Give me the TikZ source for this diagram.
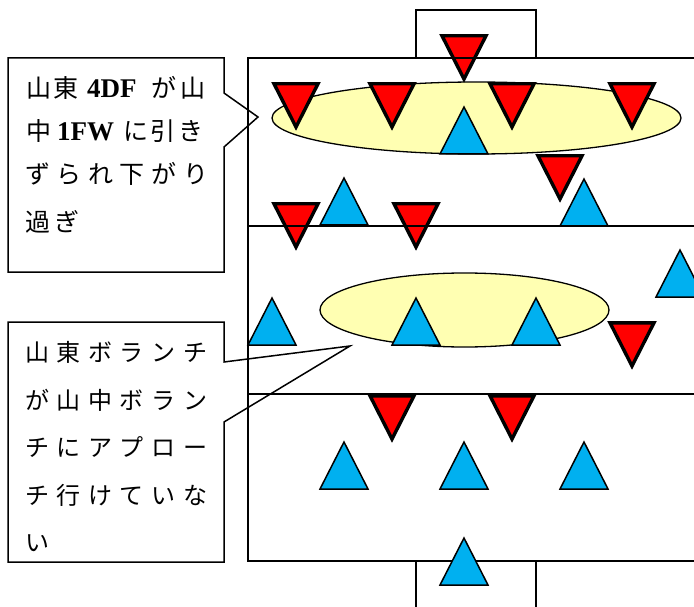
\documentclass[tikz,border=0pt]{standalone}
\usepackage{fontspec}
\setmainfont{Liberation Serif}
\newfontfamily\cjk{Noto Sans CJK JP}
\definecolor{tblue}{RGB}{0,176,240}
\definecolor{ellfill}{RGB}{255,255,178}
\newcommand\jc[1]{\makebox[31.6pt][l]{#1}}
\newcommand\lat[1]{{\rmfamily\bfseries\fontsize{27pt}{30pt}\selectfont #1}}
\newcommand\rtri[2]{\draw[redtri] (#1-22,#2+1.8) -- (#1+22,#2+1.8) -- (#1,#2+45) -- cycle;}
\newcommand\btri[2]{\draw[bluetri] (#1,#2) -- (#1+24,#2+47) -- (#1-24,#2+47) -- cycle;}
\tikzset{
  redtri/.style={fill=red, draw=black, line width=3.4pt, line join=miter},
  bluetri/.style={fill=tblue, draw=black, line width=1.5pt, line join=miter},
  pitchline/.style={draw=black, line width=1.5pt},
  zone/.style={fill=ellfill, draw=black, line width=1.3pt},
  callout/.style={draw=black, line width=1.5pt, line join=miter},
  ctext/.style={anchor=base west, inner sep=0pt, font=\cjk\fontsize{25pt}{28pt}\selectfont},
  ctextb/.style={anchor=base west, inner sep=0pt, font=\cjk\fontsize{24pt}{28pt}\selectfont},
}
\begin{document}
\begin{tikzpicture}[x=1pt,y=-1pt]
\useasboundingbox (0,0) rectangle (694,607);
\clip (0,0) rectangle (694,607);
% zones
\draw[zone] (476.5,118) ellipse [x radius=204.5, y radius=36];
\draw[zone] (464.5,310) ellipse [x radius=144.5, y radius=37];
% red players
\rtri{464}{34}
\rtri{296}{82}\rtri{392}{82}\rtri{512}{82}\rtri{632}{82}
\rtri{560}{154}
\rtri{296}{202}\rtri{416}{202}
\rtri{632}{321}
\rtri{392}{394}\rtri{512}{394}
% pitch
\draw[pitchline] (720,58) -- (248,58) -- (248,561) -- (720,561);
\draw[pitchline] (248,226) -- (720,226);
\draw[pitchline] (248,394) -- (720,394);
\draw[pitchline] (416,58) -- (416,10) -- (536,10) -- (536,58);
\draw[pitchline] (416,561) -- (416,620);
\draw[pitchline] (536,561) -- (536,620);
% blue players
\btri{464}{107}
\btri{584}{179}\btri{344}{178}
\btri{272}{298}\btri{416}{298}\btri{536}{298}
\btri{680}{250}
\btri{344}{442}\btri{464}{442}\btri{584}{442}
\btri{464}{538}
% callout 1
\coordinate (p1) at (258,117);
\draw[callout] (8,58) -- (224,58) -- (224,93) -- (p1) -- (224,147) -- (224,272) -- (8,272) -- cycle;
\node[ctext] (a1) at (26,98) {\makebox[27pt][l]{山}\makebox[34pt][l]{東}\makebox[64pt][l]{\lat{4DF}}\makebox[29pt][l]{が}山};
\node[ctext] (a2) at (26,141) {\makebox[31pt][l]{中}\makebox[66pt][l]{\lat{1FW}}\makebox[27pt][l]{に}\makebox[28pt][l]{引}き};
\node[ctext] (a3) at (25,184) {\jc{ず}\jc{ら}\jc{れ}\jc{下}\jc{が}り};
\node[ctext] (a4) at (25,231) {\makebox[29pt][l]{過}ぎ};
% callout 2
\coordinate (p2) at (350,346);
\draw[callout] (8,322) -- (224,322) -- (224,362) -- (p2) -- (224,422) -- (224,562) -- (8,562) -- cycle;
\node[ctextb] (b1) at (25,361) {\jc{山}\jc{東}\jc{ボ}\jc{ラ}\jc{ン}チ};
\node[ctextb] (b2) at (25,409) {\jc{が}\jc{山}\jc{中}\jc{ボ}\jc{ラ}ン};
\node[ctextb] (b3) at (25,456) {\jc{チ}\jc{に}\jc{ア}\jc{プ}\jc{ロ}ー};
\node[ctextb] (b4) at (25,504) {\jc{チ}\jc{行}\jc{け}\jc{て}\jc{い}な};
\node[ctextb] (b5) at (25,551) {い};
\end{tikzpicture}
\end{document}
